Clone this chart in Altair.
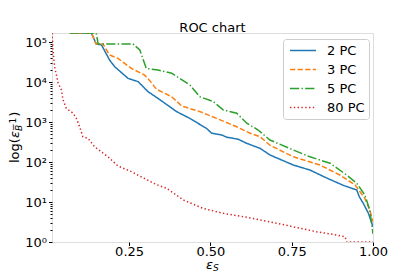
import altair as alt
import pandas as pd

# ---- data ----
series_names = ["2 PC", "3 PC", "5 PC", "80 PC"]

x_2pc = [0.068, 0.134, 0.149, 0.165, 0.19, 0.206, 0.247, 0.278, 0.308, 0.339, 0.396, 0.437,
         0.488, 0.504, 0.535, 0.55, 0.585, 0.611, 0.653, 0.683, 0.755, 0.806, 0.857, 0.909,
         0.95, 0.958, 0.97, 0.986, 1.0]
y_2pc = [168000, 168000, 89100, 85100, 35500, 24000, 12300, 10200, 5750, 3890, 1820, 1230,
         692, 525, 473, 417, 372, 295, 219, 150, 84, 63, 40, 26,
         20, 13.5, 9.3, 5.2, 2.4]

x_3pc = [0.068, 0.134, 0.149, 0.17, 0.19, 0.216, 0.257, 0.297, 0.315, 0.334, 0.381, 0.412,
         0.468, 0.519, 0.581, 0.622, 0.653, 0.683, 0.755, 0.837, 0.898, 0.945, 0.975, 0.99, 1.0]
y_3pc = [168000, 168000, 89100, 89100, 47300, 38900, 21900, 15000, 10500, 6610, 4270, 2510,
         1820, 1230, 759, 525, 427, 263, 135, 84.1, 47.3, 26.6, 12.3, 6.3, 3.2]

x_5pc = [0.068, 0.149, 0.155, 0.262, 0.283, 0.303, 0.339, 0.381, 0.437, 0.468, 0.509, 0.54,
         0.581, 0.612, 0.647, 0.683, 0.755, 0.806, 0.868, 0.919, 0.95, 0.975, 0.99, 1.0]
y_5pc = [168000, 168000, 89100, 89100, 63100, 21900, 19950, 16600, 8410, 4270, 3240, 2000,
         1660, 933, 631, 355, 200, 135, 93.3, 47.3, 29.5, 15, 6.3, 1.6]

x_80pc = [0.013, 0.016, 0.021, 0.032, 0.042, 0.047, 0.057, 0.078, 0.088, 0.098, 0.108, 0.124,
          0.144, 0.185, 0.216, 0.257, 0.297, 0.333, 0.366, 0.417, 0.478, 0.54, 0.601, 0.683,
          0.755, 0.827, 0.888, 0.914, 0.919, 1.0]
y_80pc = [168000, 63100, 24000, 9330, 6310, 3550, 2190, 1660, 1230, 759, 427, 389,
          240, 135, 79.4, 57.5, 38.9, 27.5, 21.9, 11.2, 6.9, 5.2, 4.3, 3.2,
          2.4, 1.8, 1.5, 1.35, 1.0, 1.0]

x_ticks = [0.25, 0.5, 0.75, 1.0]
y_max = 168000
y_title_parts = ["log(", "ε", "B", "−1", ")"]
x_title_parts = ["ε", "S"]
chart_title = "ROC chart"

# ---- styles ----
colors = ["#1f77b4", "#ff7f0e", "#2ca02c", "#d62728"]
dashes = [[1, 0], [5.3, 2.3], [9.2, 2.3, 1.4, 2.3], [1.4, 2.4]]
FONT = "DejaVu Sans"

rows = []
for name, xs, ys in zip(series_names, [x_2pc, x_3pc, x_5pc, x_80pc], [y_2pc, y_3pc, y_5pc, y_80pc]):
    for i, (a, b) in enumerate(zip(xs, ys)):
        rows.append({"series": name, "eff_s": a, "inv_eff_b": b, "order": i})
df = pd.DataFrame(rows)

y_ticks = [m * 10 ** k for k in range(6) for m in range(1, 10) if m * 10 ** k <= y_max]
is_major = "abs(log(datum.value)/LN10 - round(log(datum.value)/LN10)) < 0.001"
sup = "['⁰','¹','²','³','⁴','⁵','⁶'][round(log(datum.value)/LN10)]"

legend = alt.Legend(
    title=None, orient="none", legendX=231, legendY=6,
    symbolType="M-2,0H2", symbolSize=169, symbolStrokeWidth=1.5, symbolOffset=8.5,
    symbolFillColor="transparent",
    labelFontSize=13, labelFont=FONT, labelColor="black", labelOffset=16.5,
    padding=4, rowPadding=4,
    fillColor="rgba(255,255,255,0.8)", strokeColor="#cccccc", cornerRadius=3,
)

lines = alt.Chart(df).mark_line(strokeWidth=1.5, clip=True).encode(
    x=alt.X("eff_s:Q",
            scale=alt.Scale(domain=[0.013, 1.0], nice=False, zero=False),
            axis=alt.Axis(values=x_ticks, format=".2f", title=None, grid=False,
                          domain=False, tickSize=3.5, tickColor="black",
                          labelFontSize=13, labelFont=FONT, labelColor="black",
                          labelFlush=False, labelPadding=0)),
    y=alt.Y("inv_eff_b:Q",
            scale=alt.Scale(type="log", domain=[1, y_max], nice=False),
            axis=alt.Axis(values=y_ticks, title=None, grid=False, domain=False,
                          labelExpr=f"({is_major}) ? '10' + {sup} : ''",
                          tickSize={"condition": {"test": is_major, "value": 3.5}, "value": 2},
                          tickColor="black", labelOverlap=False, labelBound=False,
                          labelFlush=False,
                          labelFontSize=13, labelFont=FONT, labelColor="black",
                          labelPadding=2)),
    color=alt.Color("series:N", scale=alt.Scale(domain=series_names, range=colors),
                    sort=series_names, legend=legend),
    strokeDash=alt.StrokeDash("series:N", scale=alt.Scale(domain=series_names, range=dashes),
                              sort=series_names, legend=legend),
    order="order:Q",
)

# axis titles with sub/superscripts, composed of text pieces
xt = alt.Chart(pd.DataFrame({"t": [x_title_parts[0]]})).mark_text(
    font=FONT, fontSize=13, fontStyle="italic", align="left", baseline="alphabetic", color="black"
).encode(text="t:N", x=alt.value(154), y=alt.value(235.5))
xs_ = alt.Chart(pd.DataFrame({"t": [x_title_parts[1]]})).mark_text(
    font=FONT, fontSize=9, fontStyle="italic", align="left", baseline="alphabetic", color="black"
).encode(text="t:N", x=alt.value(161), y=alt.value(238))

yt1 = alt.Chart(pd.DataFrame({"t": [y_title_parts[0]]})).mark_text(
    font=FONT, fontSize=13, align="left", baseline="alphabetic", angle=270, color="black"
).encode(text="t:N", x=alt.value(-33), y=alt.value(130))
yt2 = alt.Chart(pd.DataFrame({"t": [y_title_parts[1]]})).mark_text(
    font=FONT, fontSize=13, fontStyle="italic", align="left", baseline="alphabetic", angle=270, color="black"
).encode(text="t:N", x=alt.value(-33), y=alt.value(105.1))
yt3 = alt.Chart(pd.DataFrame({"t": [y_title_parts[2]]})).mark_text(
    font=FONT, fontSize=9, fontStyle="italic", align="left", baseline="alphabetic", angle=270, color="black"
).encode(text="t:N", x=alt.value(-30), y=alt.value(98.1))
yt4 = alt.Chart(pd.DataFrame({"t": [y_title_parts[3]]})).mark_text(
    font=FONT, fontSize=9, align="left", baseline="alphabetic", angle=270, color="black"
).encode(text="t:N", x=alt.value(-36.5), y=alt.value(98.1))
yt5 = alt.Chart(pd.DataFrame({"t": [y_title_parts[4]]})).mark_text(
    font=FONT, fontSize=13, align="left", baseline="alphabetic", angle=270, color="black"
).encode(text="t:N", x=alt.value(-33), y=alt.value(83.8))

chart = alt.layer(lines, xt, xs_, yt1, yt2, yt3, yt4, yt5).properties(
    width=321, height=209,
    title=alt.TitleParams(chart_title, font=FONT, fontSize=13, fontWeight="normal",
                          color="black", anchor="middle", baseline="alphabetic", offset=-12),
    autosize=alt.AutoSizeParams(type="none"),
    padding={"left": 44, "top": 25, "right": 34, "bottom": 30},
).configure_view(stroke="#333333", strokeWidth=1).configure(background="white")

chart.save("out.html", embed_options={"renderer": "svg", "actions": False})
